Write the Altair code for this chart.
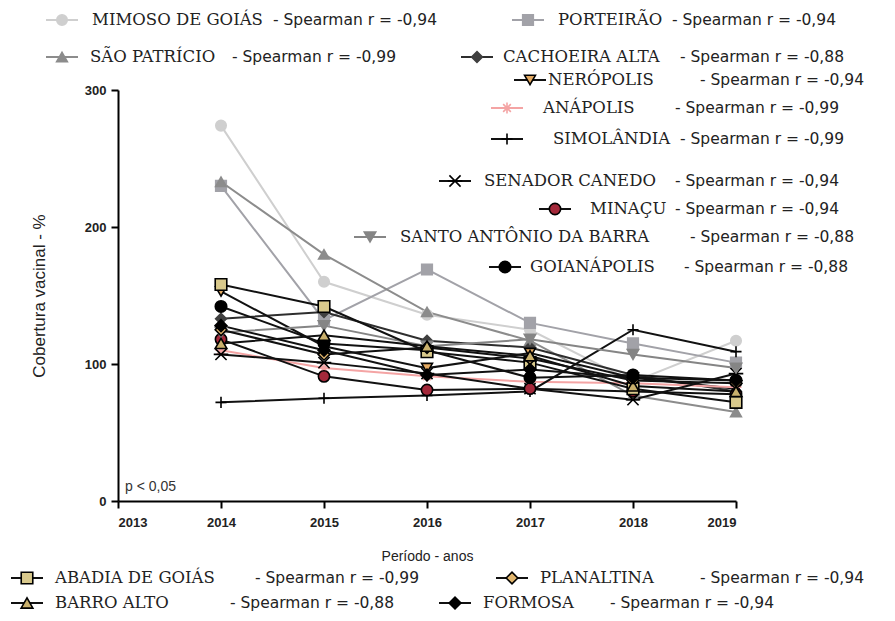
import altair as alt
import pandas as pd

# ---------------- data ----------------
years = [2014, 2015, 2016, 2017, 2018, 2019]

names = ["MIMOSO DE GOIÁS", "PORTEIRÃO", "SÃO PATRÍCIO", "CACHOEIRA ALTA",
         "NERÓPOLIS", "ANÁPOLIS", "SIMOLÂNDIA", "SENADOR CANEDO", "MINAÇU",
         "SANTO ANTÔNIO DA BARRA", "GOIANÁPOLIS", "ABADIA DE GOIÁS",
         "PLANALTINA", "BARRO ALTO", "FORMOSA"]
spearman = ["-0,94", "-0,94", "-0,99", "-0,88", "-0,94", "-0,99", "-0,99",
            "-0,94", "-0,94", "-0,88", "-0,88", "-0,99", "-0,94", "-0,88", "-0,94"]

mimoso = [274, 160, 136, 125, 87, 117]
porteirao = [230, 132, 169, 130, 115, 101]
sao_patricio = [233, 180, 138, 117, 77, 65]
cachoeira_alta = [133, 138, 117, 112, 92, 80]
neropolis = [153, 113, 97, 108, 90, 82]
anapolis = [110, 97, 91, 87, 86, 83]
simolandia = [72, 75, 77, 80, 125, 109]
senador_canedo = [107, 101, 93, 82, 74, 93]
minacu = [118, 91, 81, 82, 80, 78]
santo_antonio = [123, 128, 113, 118, 107, 97]
goianapolis = [142, 115, 110, 90, 92, 88]
abadia = [158, 142, 109, 101, 82, 72]
planaltina = [125, 107, 112, 104, 88, 86]
barro_alto = [115, 121, 113, 106, 84, 80]
formosa = [128, 110, 92, 96, 90, 88]

series_values = [mimoso, porteirao, sao_patricio, cachoeira_alta, neropolis,
                 anapolis, simolandia, senador_canedo, minacu, santo_antonio,
                 goianapolis, abadia, planaltina, barro_alto, formosa]

# ---------------- styles ----------------
CROSS = "M-1,0H1M0,-1V1"
XMARK = "M-1,-1L1,1M-1,1L1,-1M-1.3,0H1.3"
STAR = "M-1,0H1M0,-1V1M-0.7,-0.7L0.7,0.7M-0.7,0.7L0.7,-0.7"

line_colors = ["#cfcfcf", "#a2a2a8", "#8c8c8c", "#2e2e2e", "#111111", "#f4a4a4",
               "#111111", "#111111", "#111111", "#858585", "#111111", "#111111",
               "#111111", "#111111", "#111111"]
shapes = ["circle", "square", "triangle-up", "diamond", "triangle-down", STAR,
          CROSS, XMARK, "circle", "triangle-down", "circle", "square",
          "diamond", "triangle-up", "diamond"]
fills = ["#cfcfcf", "#a2a2a8", "#8c8c8c", "#404040", "#e4aa62", "#f4a4a4",
         "transparent", "transparent", "#a3283a", "#858585", "#000000", "#d9c98c",
         "#e2b66e", "#c9b06c", "#000000"]
strokes = ["#cfcfcf", "#a2a2a8", "#8c8c8c", "#404040", "#000000", "#f4a4a4",
           "#000000", "#000000", "#000000", "#858585", "#000000", "#000000",
           "#000000", "#000000", "#000000"]
sizes = [110, 140, 110, 60, 110, 60, 90, 70, 110, 100, 120, 150, 70, 100, 60]

# legend layout (page pixels)
leg_sym_x = [62, 528, 62, 477, 530, 507, 507, 455, 555, 370, 505, 27, 512, 27, 455]
leg_y = [20, 20, 57, 57, 80, 108, 139, 181, 209, 237, 267, 578, 578, 603, 603]
leg_name_x = [92, 558, 90, 503, 548, 543, 553, 484, 590, 400, 530, 55, 540, 55, 483]
leg_stat_x = [273, 672, 232, 680, 700, 675, 680, 675, 675, 690, 684, 255, 700, 230, 610]

PAD_L, PAD_T = 110, 82
ORIGIN_X, ORIGIN_Y = 8 + PAD_L, 8 + PAD_T

rows = []
for n, vals in zip(names, series_values):
    for yr, v in zip(years, vals):
        rows.append({"series": n, "year": yr, "value": v})
df = pd.DataFrame(rows)

leg = pd.DataFrame({
    "series": names,
    "stat": ["- Spearman r = " + s for s in spearman],
    "sx": [x - ORIGIN_X for x in leg_sym_x],
    "sx1": [x - ORIGIN_X - 16 for x in leg_sym_x],
    "sx2": [x - ORIGIN_X + 16 for x in leg_sym_x],
    "ly": [y - ORIGIN_Y for y in leg_y],
    "nx": [x - ORIGIN_X for x in leg_name_x],
    "tx": [x - ORIGIN_X for x in leg_stat_x],
})

color_scale = alt.Scale(domain=names, range=line_colors)
shape_scale = alt.Scale(domain=names, range=shapes)
fill_scale = alt.Scale(domain=names, range=fills)
stroke_scale = alt.Scale(domain=names, range=strokes)
size_scale = alt.Scale(domain=names, range=sizes)

x_enc = alt.X("year:Q", scale=alt.Scale(domain=[2013, 2019], nice=False, zero=False),
              axis=alt.Axis(values=[2013, 2014, 2015, 2016, 2017, 2018, 2019], format="d",
                            title="Período - anos", titleFontSize=14, titleFontWeight="normal",
                            titleFont="Liberation Sans", titlePadding=20, titleColor="#222",
                            labelPadding=8))
y_enc = alt.Y("value:Q", scale=alt.Scale(domain=[0, 300], nice=False),
              axis=alt.Axis(values=[0, 100, 200, 300], title="Cobertura vacinal - %",
                            titleFontSize=17, titleFontWeight="normal", titleFont="Liberation Sans",
                            titlePadding=36, titleColor="#222", labelPadding=5))

base = alt.Chart(df)
lines = base.mark_line(strokeWidth=2).encode(
    x=x_enc, y=y_enc,
    color=alt.Color("series:N", scale=color_scale, legend=None),
    order=alt.Order("year:Q"),
)
points = base.mark_point(filled=True, opacity=1, strokeWidth=1.6).encode(
    x="year:Q", y="value:Q",
    shape=alt.Shape("series:N", scale=shape_scale, legend=None),
    fill=alt.Fill("series:N", scale=fill_scale, legend=None),
    stroke=alt.Stroke("series:N", scale=stroke_scale, legend=None),
    size=alt.Size("series:N", scale=size_scale, legend=None),
)

lbase = alt.Chart(leg)
leg_lines = lbase.mark_rule(strokeWidth=2).encode(
    x=alt.X("sx1:Q", scale=None, axis=None), x2="sx2:Q",
    y=alt.Y("ly:Q", scale=None, axis=None),
    color=alt.Color("series:N", scale=color_scale, legend=None),
)
leg_pts = lbase.mark_point(filled=True, opacity=1, strokeWidth=1.6).encode(
    x=alt.X("sx:Q", scale=None, axis=None),
    y=alt.Y("ly:Q", scale=None, axis=None),
    shape=alt.Shape("series:N", scale=shape_scale, legend=None),
    fill=alt.Fill("series:N", scale=fill_scale, legend=None),
    stroke=alt.Stroke("series:N", scale=stroke_scale, legend=None),
    size=alt.Size("series:N", scale=size_scale, legend=None),
)
leg_names = lbase.mark_text(align="left", baseline="middle", font="DejaVu Serif",
                            fontSize=16.5, color="#222").encode(
    x=alt.X("nx:Q", scale=None, axis=None),
    y=alt.Y("ly:Q", scale=None, axis=None),
    text="series:N",
)
leg_stats = lbase.mark_text(align="left", baseline="middle", font="DejaVu Sans",
                            fontSize=15.5, color="#222").encode(
    x=alt.X("tx:Q", scale=None, axis=None),
    y=alt.Y("ly:Q", scale=None, axis=None),
    text="stat:N",
)
pnote = alt.Chart(pd.DataFrame({"t": ["p < 0,05"]})).mark_text(
    align="left", baseline="middle", font="Liberation Sans", fontSize=14, color="#333"
).encode(x=alt.value(7), y=alt.value(397), text="t:N")

chart = alt.layer(lines, points, leg_lines, leg_pts, leg_names, leg_stats, pnote).properties(
    width=618, height=411,
    padding={"left": PAD_L, "top": PAD_T, "right": 151, "bottom": 112},
    autosize=alt.AutoSizeParams(type="none"),
).configure_view(stroke=None).configure_axis(
    grid=False, domainColor="black", domainWidth=2, tickColor="black", tickWidth=2,
    tickSize=7, labelFontSize=13, labelFontWeight="bold", labelFont="Liberation Sans",
    labelColor="#222"
)

chart.save("out.html", embed_options={"renderer": "svg", "actions": False})
